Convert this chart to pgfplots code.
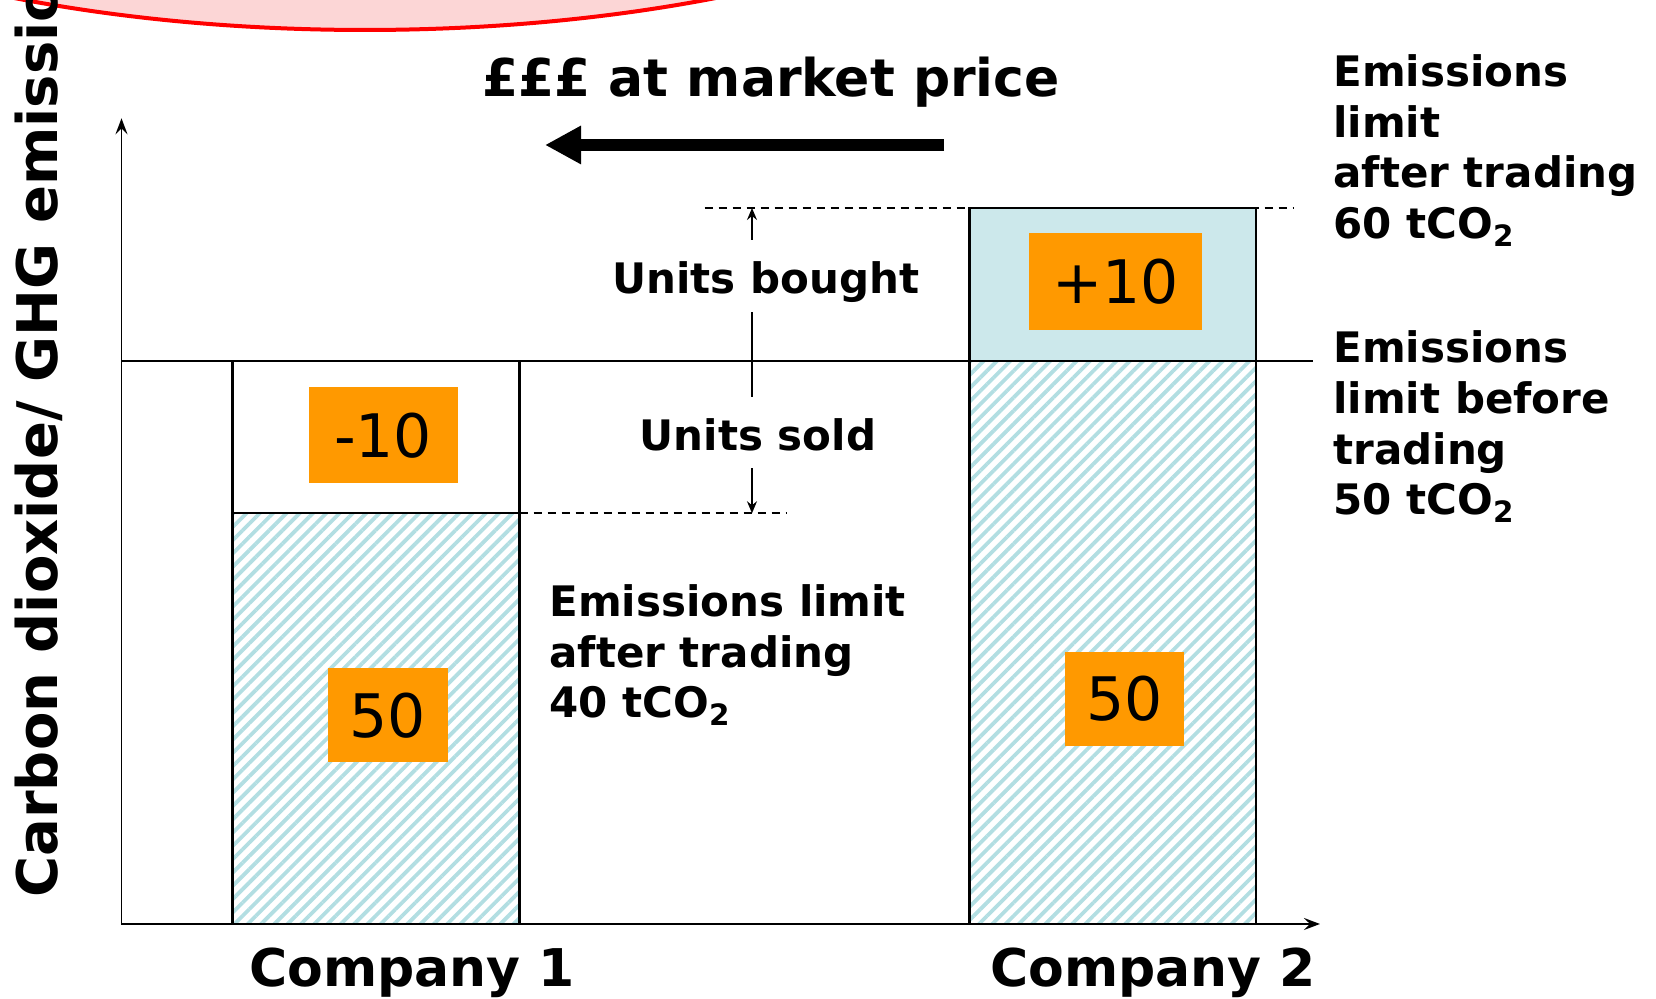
\documentclass[border=0pt]{standalone}
\usepackage{pgfplots}
\pgfplotsset{compat=1.18}
\usepackage{fontspec}
\setmainfont{DejaVu Sans}
\usetikzlibrary{arrows.meta,patterns.meta}
\definecolor{hatchblue}{RGB}{178,222,226}
\definecolor{dotblue}{RGB}{204,232,235}
\definecolor{orng}{RGB}{255,153,0}
\definecolor{pinkfill}{RGB}{252,214,214}
\definecolor{ellred}{RGB}{255,0,0}
\newcommand{\lab}{\fontsize{21}{25}\selectfont\bfseries}
\begin{document}
\begin{tikzpicture}
\useasboundingbox (-60.75pt,-37.5pt) rectangle (767.25pt,462pt);
\clip (-60.75pt,-37.5pt) rectangle (767.25pt,462pt);
\begin{scope}[shift={(-60.75pt,462pt)}, x=0.5pt, y=-0.5pt]
  \draw[ellred, line width=2pt, fill=pinkfill] (365,-290) ellipse [x radius=402pt, y radius=160pt];
\end{scope}
\begin{axis}[
  at={(0pt,0pt)}, anchor=south west, scale only axis,
  width=599.25pt, height=402.85pt,
  xmin=0, xmax=11.985, ymin=0, ymax=71.58,
  axis lines=left,
  axis line style={line width=0.9pt, -{Stealth[length=8pt,width=6pt,inset=3pt]}},
  ticks=none, clip=false,
]
% dashed guide lines
\addplot[black, line width=0.8pt, dash pattern=on 4pt off 3pt] coordinates {(5.83,63.61) (11.72,63.61)};
\addplot[black, line width=0.8pt, dash pattern=on 4pt off 3pt] coordinates {(3.98,36.49) (6.65,36.49)};
% Company 1: after trading (hatched) and units sold (white)
\addplot[draw=black, line width=1.2pt, pattern={Lines[angle=45,distance=4.7pt,line width=1.9pt]}, pattern color=hatchblue]
  coordinates {(1.108,0) (3.981,0) (3.981,36.49) (1.108,36.49)} -- cycle;
\addplot[draw=black, line width=1.2pt, fill=white]
  coordinates {(1.108,36.49) (3.981,36.49) (3.981,50) (1.108,50)} -- cycle;
% Company 2: before trading (hatched) and units bought (dotted)
\addplot[draw=black, line width=1.2pt, pattern={Lines[angle=45,distance=4.7pt,line width=1.9pt]}, pattern color=hatchblue]
  coordinates {(8.48,0) (11.342,0) (11.342,50) (8.48,50)} -- cycle;
\addplot[draw=black, line width=1.2pt, fill=dotblue]
  coordinates {(8.48,50) (11.342,50) (11.342,63.61) (8.48,63.61)} -- cycle;
% limit before trading
\addplot[black, line width=1pt] coordinates {(0,50) (11.91,50)};
% units arrows
\draw[line width=0.8pt, -{Stealth[length=6pt,width=5pt,inset=2pt]}] (axis cs:6.305,60.77) -- (axis cs:6.305,63.61);
\draw[line width=0.8pt] (axis cs:6.305,54.37) -- (axis cs:6.305,46.82);
\draw[line width=0.8pt, -{Stealth[length=6pt,width=5pt,inset=2pt]}] (axis cs:6.305,40.51) -- (axis cs:6.305,36.49);
\end{axis}
\begin{scope}[shift={(-60.75pt,462pt)}, x=0.5pt, y=-0.5pt]
  % title and arrow
  \node[anchor=base, font=\fontsize{26}{31}\selectfont\bfseries, inner sep=0] at (771,97) {£££ at market price};
  \draw[line width=6pt, -{Triangle[length=18pt,width=18pt]}] (944,145) -- (545,145);
  % y label
  \node[rotate=90, anchor=base west, inner sep=0, font=\fontsize{28}{34}\selectfont\bfseries] at (58,898) {Carbon dioxide/ GHG emissions};
  % company labels
  \node[anchor=base, inner sep=0, font=\fontsize{26}{31}\selectfont\bfseries] at (412,987) {Company 1};
  \node[anchor=base, inner sep=0, font=\fontsize{26}{31}\selectfont\bfseries] at (1153,987) {Company 2};
  % units labels
  \node[anchor=base, inner sep=0, font=\lab] at (765.6,293.6) {Units bought};
  \node[anchor=base, inner sep=0, font=\lab] at (758,451) {Units sold};
  % right labels
  \node[anchor=base west, inner sep=0, font=\lab] at (1333,86.6) {Emissions};
  \node[anchor=base west, inner sep=0, font=\lab] at (1333,137.3) {limit};
  \node[anchor=base west, inner sep=0, font=\lab] at (1333,188) {after trading};
  \node[anchor=base west, inner sep=0, font=\lab] at (1333,238.7) {60 tCO\textsubscript{2}};
  \node[anchor=base west, inner sep=0, font=\lab] at (1333,362.5) {Emissions};
  \node[anchor=base west, inner sep=0, font=\lab] at (1333,413.5) {limit before};
  \node[anchor=base west, inner sep=0, font=\lab] at (1333,464.3) {trading};
  \node[anchor=base west, inner sep=0, font=\lab] at (1333,514.5) {50 tCO\textsubscript{2}};
  \node[anchor=base west, inner sep=0, font=\lab] at (549,616.8) {Emissions limit};
  \node[anchor=base west, inner sep=0, font=\lab] at (549,667.4) {after trading};
  \node[anchor=base west, inner sep=0, font=\lab] at (549,718) {40 tCO\textsubscript{2}};
  % orange value boxes
  \node[fill=orng, minimum width=74.5pt, minimum height=48pt, inner sep=0, font=\fontsize{30}{36}\selectfont] at (383,435.5) {-10};
  \node[fill=orng, minimum width=86.5pt, minimum height=48.5pt, inner sep=0, font=\fontsize{30}{36}\selectfont] at (1115.5,281.2) {+10};
  \node[fill=orng, minimum width=60pt, minimum height=47pt, inner sep=0, font=\fontsize{30}{36}\selectfont] at (387.6,715.5) {50};
  \node[fill=orng, minimum width=59.5pt, minimum height=47pt, inner sep=0, font=\fontsize{30}{36}\selectfont] at (1124.2,698.6) {50};
\end{scope}
\end{tikzpicture}
\end{document}
